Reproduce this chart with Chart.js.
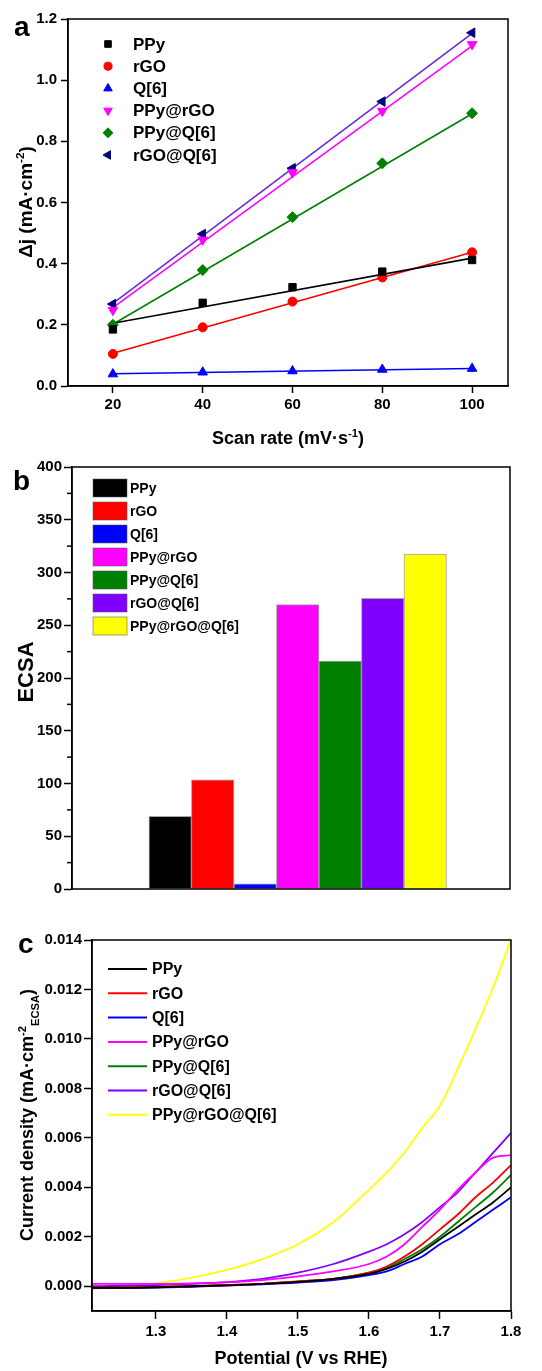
<!DOCTYPE html>
<html>
<head>
<meta charset="utf-8">
<script src="https://cdn.jsdelivr.net/npm/chart.js@4.4.1/dist/chart.umd.min.js"></script>
<style>
  html, body { margin: 0; padding: 0; background: #fff; }
  body { width: 542px; height: 1371px; position: relative; overflow: hidden; }
  canvas { position: absolute; left: 0; }
</style>
</head>
<body>
<canvas id="chartA" width="542" height="450" style="top:0px"></canvas>
<canvas id="chartB" width="542" height="450" style="top:450px"></canvas>
<canvas id="chartC" width="542" height="471" style="top:900px"></canvas>
<script>
// ---- panel a: delta j vs scan rate ----
const scanRate = [20, 40, 60, 80, 100];
const djPPy = [0.185, 0.272, 0.323, 0.374, 0.412];
const djRGO = [0.105, 0.192, 0.276, 0.355, 0.437];
const djQ6 = [0.039, 0.045, 0.049, 0.054, 0.057];
const djPPyRGO = [0.248, 0.478, 0.698, 0.899, 1.117];
const djPPyQ6 = [0.200, 0.379, 0.552, 0.728, 0.892];
const djRGOQ6 = [0.268, 0.497, 0.712, 0.930, 1.155];

// fitted lines (end points)
const fitX = [20, 100];
const fitPPy = [0.205, 0.418];
const fitRGO = [0.107, 0.437];
const fitQ6 = [0.040, 0.057];
const fitPPyRGO = [0.256, 1.112];
const fitPPyQ6 = [0.202, 0.890];
const fitRGOQ6 = [0.270, 1.153];

// ---- panel b: ECSA ----
const ecsaNames = ['PPy', 'rGO', 'Q[6]', 'PPy@rGO', 'PPy@Q[6]', 'rGO@Q[6]', 'PPy@rGO@Q[6]'];
const ecsaValues = [69, 103.5, 5, 269.5, 216, 275.5, 317.5];

// ---- panel c: LSV normalised by ECSA ----
const potential = [1.21, 1.25, 1.30, 1.35, 1.40, 1.45, 1.50, 1.55, 1.60, 1.625, 1.65, 1.675, 1.70, 1.725, 1.75, 1.775, 1.80];
const jPPy      = [-0.00006, -0.00006, -0.00004, 0.0000, 0.00004, 0.0001, 0.00018, 0.0003, 0.0005, 0.0007, 0.0010, 0.0014, 0.0019, 0.0024, 0.0029, 0.0034, 0.0040];
const jRGO      = [-0.00005, -0.00005, -0.00003, 0.0000, 0.00005, 0.0001, 0.0002, 0.0003, 0.00055, 0.0008, 0.0012, 0.0017, 0.0023, 0.0029, 0.0036, 0.0042, 0.0049];
const jQ6       = [-0.00007, -0.00007, -0.00005, -0.00002, 0.00003, 0.00008, 0.00015, 0.00025, 0.00045, 0.0006, 0.0009, 0.0012, 0.0017, 0.0021, 0.0026, 0.0031, 0.0036];
const jPPyRGO   = [0.0001, 0.0001, 0.0001, 0.00012, 0.00016, 0.00025, 0.0004, 0.0006, 0.0009, 0.0012, 0.0017, 0.0024, 0.0031, 0.0039, 0.0046, 0.0052, 0.0053];
const jPPyQ6    = [-0.00008, -0.00007, -0.00004, 0.0000, 0.00005, 0.0001, 0.0002, 0.0003, 0.00055, 0.00075, 0.0011, 0.0015, 0.0020, 0.0026, 0.0032, 0.0038, 0.0045];
const jRGOQ6    = [0.0000, 0.00002, 0.00005, 0.0001, 0.00017, 0.0003, 0.00055, 0.0009, 0.0014, 0.0017, 0.0021, 0.0026, 0.0032, 0.0038, 0.0046, 0.0054, 0.0062];
const jPPyRGOQ6 = [-0.00005, 0.00002, 0.00012, 0.00035, 0.00066, 0.0011, 0.0017, 0.0026, 0.0039, 0.0046, 0.0054, 0.0064, 0.0073, 0.0088, 0.0104, 0.0121, 0.0140];

const FONT = "'Liberation Sans', Arial, Helvetica, sans-serif";
Chart.defaults.font.family = FONT;
Chart.defaults.color = '#000';

const tickFont = { size: 15, weight: 'bold' };

function pts(xs, ys) {
  return xs.map((x, i) => ({ x: x, y: ys[i] }));
}

// text with sup / sub pieces, centred on (x, y)
function richText(ctx, segs, size, x, y, angle) {
  ctx.save();
  ctx.translate(x, y);
  ctx.rotate(angle || 0);
  const parts = segs.map(s => {
    const fs = (s.sup || s.sub) ? size * 0.62 : size;
    ctx.font = 'bold ' + fs + 'px ' + FONT;
    return { t: s.t, fs: fs, w: ctx.measureText(s.t).width, dy: s.sup ? -size * 0.4 : (s.sub ? size * 0.28 : 0) };
  });
  const total = parts.reduce((a, p) => a + p.w, 0);
  let cx = -total / 2;
  ctx.fillStyle = '#000';
  ctx.textBaseline = 'alphabetic';
  ctx.textAlign = 'left';
  parts.forEach(p => {
    ctx.font = 'bold ' + p.fs + 'px ' + FONT;
    ctx.fillText(p.t, cx, size * 0.36 + p.dy);
    cx += p.w;
  });
  ctx.restore();
}

function axisOpts(extra) {
  return Object.assign({
    grid: { drawOnChartArea: false, tickLength: 7, tickColor: '#000', tickWidth: 1.5 },
    border: { color: '#000', width: 1.5 }
  }, extra);
}

// frame, axis titles, panel letter
function panelPlugin(cfg) {
  return {
    id: 'panel',
    afterDraw(chart) {
      const ctx = chart.ctx;
      const a = chart.chartArea;
      ctx.save();
      ctx.strokeStyle = '#000';
      ctx.lineWidth = 1.5;
      ctx.strokeRect(a.left, a.top, a.right - a.left, a.bottom - a.top);
      ctx.fillStyle = '#000';
      ctx.font = 'bold 28px ' + FONT;
      ctx.textBaseline = 'alphabetic';
      ctx.fillText(cfg.letter, cfg.letterPos[0], cfg.letterPos[1]);
      ctx.restore();
      if (cfg.xTitle) richText(ctx, cfg.xTitle, cfg.xSize, cfg.xPos[0], cfg.xPos[1], 0);
      if (cfg.yTitle) richText(ctx, cfg.yTitle, cfg.ySize, cfg.yPos[0], cfg.yPos[1], -Math.PI / 2);
      if (cfg.extra) cfg.extra(chart);
    }
  };
}

// ================= panel a =================
const aSeries = [
  { label: 'PPy', y: djPPy, fit: fitPPy, color: '#000000', line: '#000000', style: 'rect', r: 5.2, rot: 0 },
  { label: 'rGO', y: djRGO, fit: fitRGO, color: '#ff0000', line: '#ff0000', style: 'circle', r: 4.5, rot: 0 },
  { label: 'Q[6]', y: djQ6, fit: fitQ6, color: '#0000ff', line: '#0000ff', style: 'triangle', r: 5.5, rot: 0 },
  { label: 'PPy@rGO', y: djPPyRGO, fit: fitPPyRGO, color: '#ff00ff', line: '#ff00ff', style: 'triangle', r: 5.5, rot: 180 },
  { label: 'PPy@Q[6]', y: djPPyQ6, fit: fitPPyQ6, color: '#008000', line: '#008000', style: 'rectRot', r: 5.5, rot: 0 },
  { label: 'rGO@Q[6]', y: djRGOQ6, fit: fitRGOQ6, color: '#000080', line: '#6a2bd9', style: 'triangle', r: 5.5, rot: -90 }
];

const aDatasets = [];
aSeries.forEach(s => {
  aDatasets.push({
    label: s.label, data: pts(scanRate, s.y), showLine: false, order: 0,
    pointStyle: s.style, pointRadius: s.r, pointRotation: s.rot,
    backgroundColor: s.color, borderColor: s.color, pointBorderWidth: 1
  });
});
aSeries.forEach(s => {
  aDatasets.push({
    label: s.label + ' fit', isFit: true, data: pts(fitX, s.fit), showLine: true, order: 1,
    pointRadius: 0, borderColor: s.line, borderWidth: 1.6
  });
});

new Chart(document.getElementById('chartA'), {
  type: 'scatter',
  data: { datasets: aDatasets },
  options: {
    responsive: false, animation: false, devicePixelRatio: 1,
    layout: { padding: { top: 19, right: 34, left: 0, bottom: 0 } },
    plugins: { legend: { display: false }, tooltip: { enabled: false } },
    scales: {
      x: axisOpts({
        type: 'linear', min: 10, max: 108,
        afterFit: s => { s.height = 64; },
        ticks: { stepSize: 20, includeBounds: false, font: tickFont, padding: 3, maxRotation: 0 }
      }),
      y: axisOpts({
        type: 'linear', min: 0, max: 1.2,
        afterFit: s => { s.width = 68; },
        ticks: { stepSize: 0.2, includeBounds: false, font: tickFont, padding: 4, callback: v => v.toFixed(1) }
      })
    }
  },
  plugins: [panelPlugin({
    letter: 'a', letterPos: [14, 36],
    xTitle: [{ t: 'Scan rate (mV\u00b7s' }, { t: '-1', sup: true }, { t: ')' }], xSize: 18, xPos: [288, 438],
    yTitle: [{ t: '\u0394j (mA\u00b7cm' }, { t: '-2', sup: true }, { t: ')' }], ySize: 19, yPos: [25, 202],
    extra(chart) {
      const ctx = chart.ctx;
      ctx.save();
      chart.data.datasets.filter(d => !d.isFit).forEach((d, i) => {
        const y = 44 + i * 22.2;
        ctx.fillStyle = d.backgroundColor;
        ctx.strokeStyle = d.borderColor;
        ctx.lineWidth = 1;
        Chart.helpers.drawPoint(ctx, { pointStyle: d.pointStyle, radius: d.pointRadius * 0.9, rotation: d.pointRotation, borderWidth: 1 }, 108, y);
        ctx.fillStyle = '#000';
        ctx.font = 'bold 17px ' + FONT;
        ctx.textBaseline = 'middle';
        ctx.fillText(d.label, 133, y + 1);
      });
      ctx.restore();
    }
  })]
});

// ================= panel b =================
const ecsaColors = ['#000000', '#ff0000', '#0000ff', '#ff00ff', '#008000', '#8000ff', '#ffff00'];
const ecsaSlot = ecsaNames.map((n, i) => i);   // bar order along the x axis

new Chart(document.getElementById('chartB'), {
  type: 'bar',
  data: {
    datasets: ecsaNames.map((n, i) => ({
      label: n, data: [{ x: ecsaSlot[i], y: ecsaValues[i] }], backgroundColor: ecsaColors[i],
      borderColor: 'rgba(90,90,90,0.55)', borderWidth: 1,
      grouped: false, categoryPercentage: 1, barPercentage: 1
    }))
  },
  options: {
    responsive: false, animation: false, devicePixelRatio: 1,
    layout: { padding: { top: 17, right: 32, left: 0, bottom: 10 } },
    plugins: { legend: { display: false }, tooltip: { enabled: false } },
    scales: {
      x: {
        type: 'linear', display: false, offset: false, min: -2.31, max: 7.995,
        ticks: { stepSize: 1, includeBounds: false }
      },
      y: axisOpts({
        min: 0, max: 400,
        afterFit: s => { s.width = 72; },
        grid: { drawOnChartArea: false, tickLength: 8, tickColor: '#000', tickWidth: 1.5 },
        ticks: { stepSize: 50, font: tickFont, padding: 2 }
      })
    }
  },
  plugins: [panelPlugin({
    letter: 'b', letterPos: [13, 40],
    yTitle: [{ t: 'ECSA' }], ySize: 22, yPos: [25, 222],
    extra(chart) {
      const ctx = chart.ctx;
      const ys = chart.scales.y;
      const left = chart.chartArea.left;
      ctx.save();
      ctx.strokeStyle = '#000';
      ctx.lineWidth = 1.5;
      for (let v = 25; v < 400; v += 50) {
        const py = ys.getPixelForValue(v);
        ctx.beginPath();
        ctx.moveTo(left - 5, py);
        ctx.lineTo(left, py);
        ctx.stroke();
      }
      chart.data.datasets.forEach((d, i) => {
        const y = 38 + i * 23;
        ctx.fillStyle = d.backgroundColor;
        ctx.fillRect(93, y - 9, 34, 18);
        ctx.strokeStyle = 'rgba(90,90,90,0.55)';
        ctx.lineWidth = 1;
        ctx.strokeRect(93, y - 9, 34, 18);
        ctx.fillStyle = '#000';
        ctx.font = 'bold 14px ' + FONT;
        ctx.textBaseline = 'middle';
        ctx.fillText(d.label, 130, y + 1);
      });
      ctx.restore();
    }
  })]
});

// ================= panel c =================
const cSeries = [
  { label: 'PPy', y: jPPy, color: '#000000' },
  { label: 'rGO', y: jRGO, color: '#ff0000' },
  { label: 'Q[6]', y: jQ6, color: '#0000ff' },
  { label: 'PPy@rGO', y: jPPyRGO, color: '#ff00ff' },
  { label: 'PPy@Q[6]', y: jPPyQ6, color: '#008000' },
  { label: 'rGO@Q[6]', y: jRGOQ6, color: '#8000ff' },
  { label: 'PPy@rGO@Q[6]', y: jPPyRGOQ6, color: '#ffff00' }
];

new Chart(document.getElementById('chartC'), {
  type: 'line',
  data: {
    datasets: cSeries.map(s => ({
      label: s.label, data: pts(potential, s.y), borderColor: s.color, borderWidth: 1.8,
      pointRadius: 0, cubicInterpolationMode: 'monotone', fill: false
    }))
  },
  options: {
    responsive: false, animation: false, devicePixelRatio: 1,
    layout: { padding: { top: 40, right: 31, left: 0, bottom: 0 } },
    plugins: { legend: { display: false }, tooltip: { enabled: false } },
    scales: {
      x: axisOpts({
        type: 'linear', min: 1.21, max: 1.8,
        afterFit: s => { s.height = 60; },
        grid: { drawOnChartArea: false, tickLength: 8, tickColor: '#000', tickWidth: 1.5 },
        ticks: { stepSize: 0.1, includeBounds: false, font: tickFont, padding: 4, maxRotation: 0, callback: v => v.toFixed(1) }
      }),
      y: axisOpts({
        type: 'linear', min: -0.001, max: 0.014,
        afterFit: s => { s.width = 92; },
        grid: { drawOnChartArea: false, tickLength: 8, tickColor: '#000', tickWidth: 1.5 },
        ticks: { stepSize: 0.002, includeBounds: false, font: tickFont, padding: 2, callback: v => v.toFixed(3) }
      })
    }
  },
  plugins: [panelPlugin({
    letter: 'c', letterPos: [18, 53],
    xTitle: [{ t: 'Potential (V vs RHE)' }], xSize: 18, xPos: [301, 458],
    yTitle: [{ t: 'Current density (mA\u00b7cm' }, { t: '-2', sup: true }, { t: 'ECSA', sub: true }, { t: ')' }], ySize: 18, yPos: [27, 215],
    extra(chart) {
      const ctx = chart.ctx;
      ctx.save();
      chart.data.datasets.forEach((d, i) => {
        const y = 69 + i * 24.3;
        ctx.strokeStyle = d.borderColor;
        ctx.lineWidth = 2;
        ctx.beginPath();
        ctx.moveTo(108, y);
        ctx.lineTo(147, y);
        ctx.stroke();
        ctx.fillStyle = '#000';
        ctx.font = 'bold 16px ' + FONT;
        ctx.textBaseline = 'middle';
        ctx.fillText(d.label, 152, y + 1);
      });
      ctx.restore();
    }
  })]
});
</script>
</body>
</html>
